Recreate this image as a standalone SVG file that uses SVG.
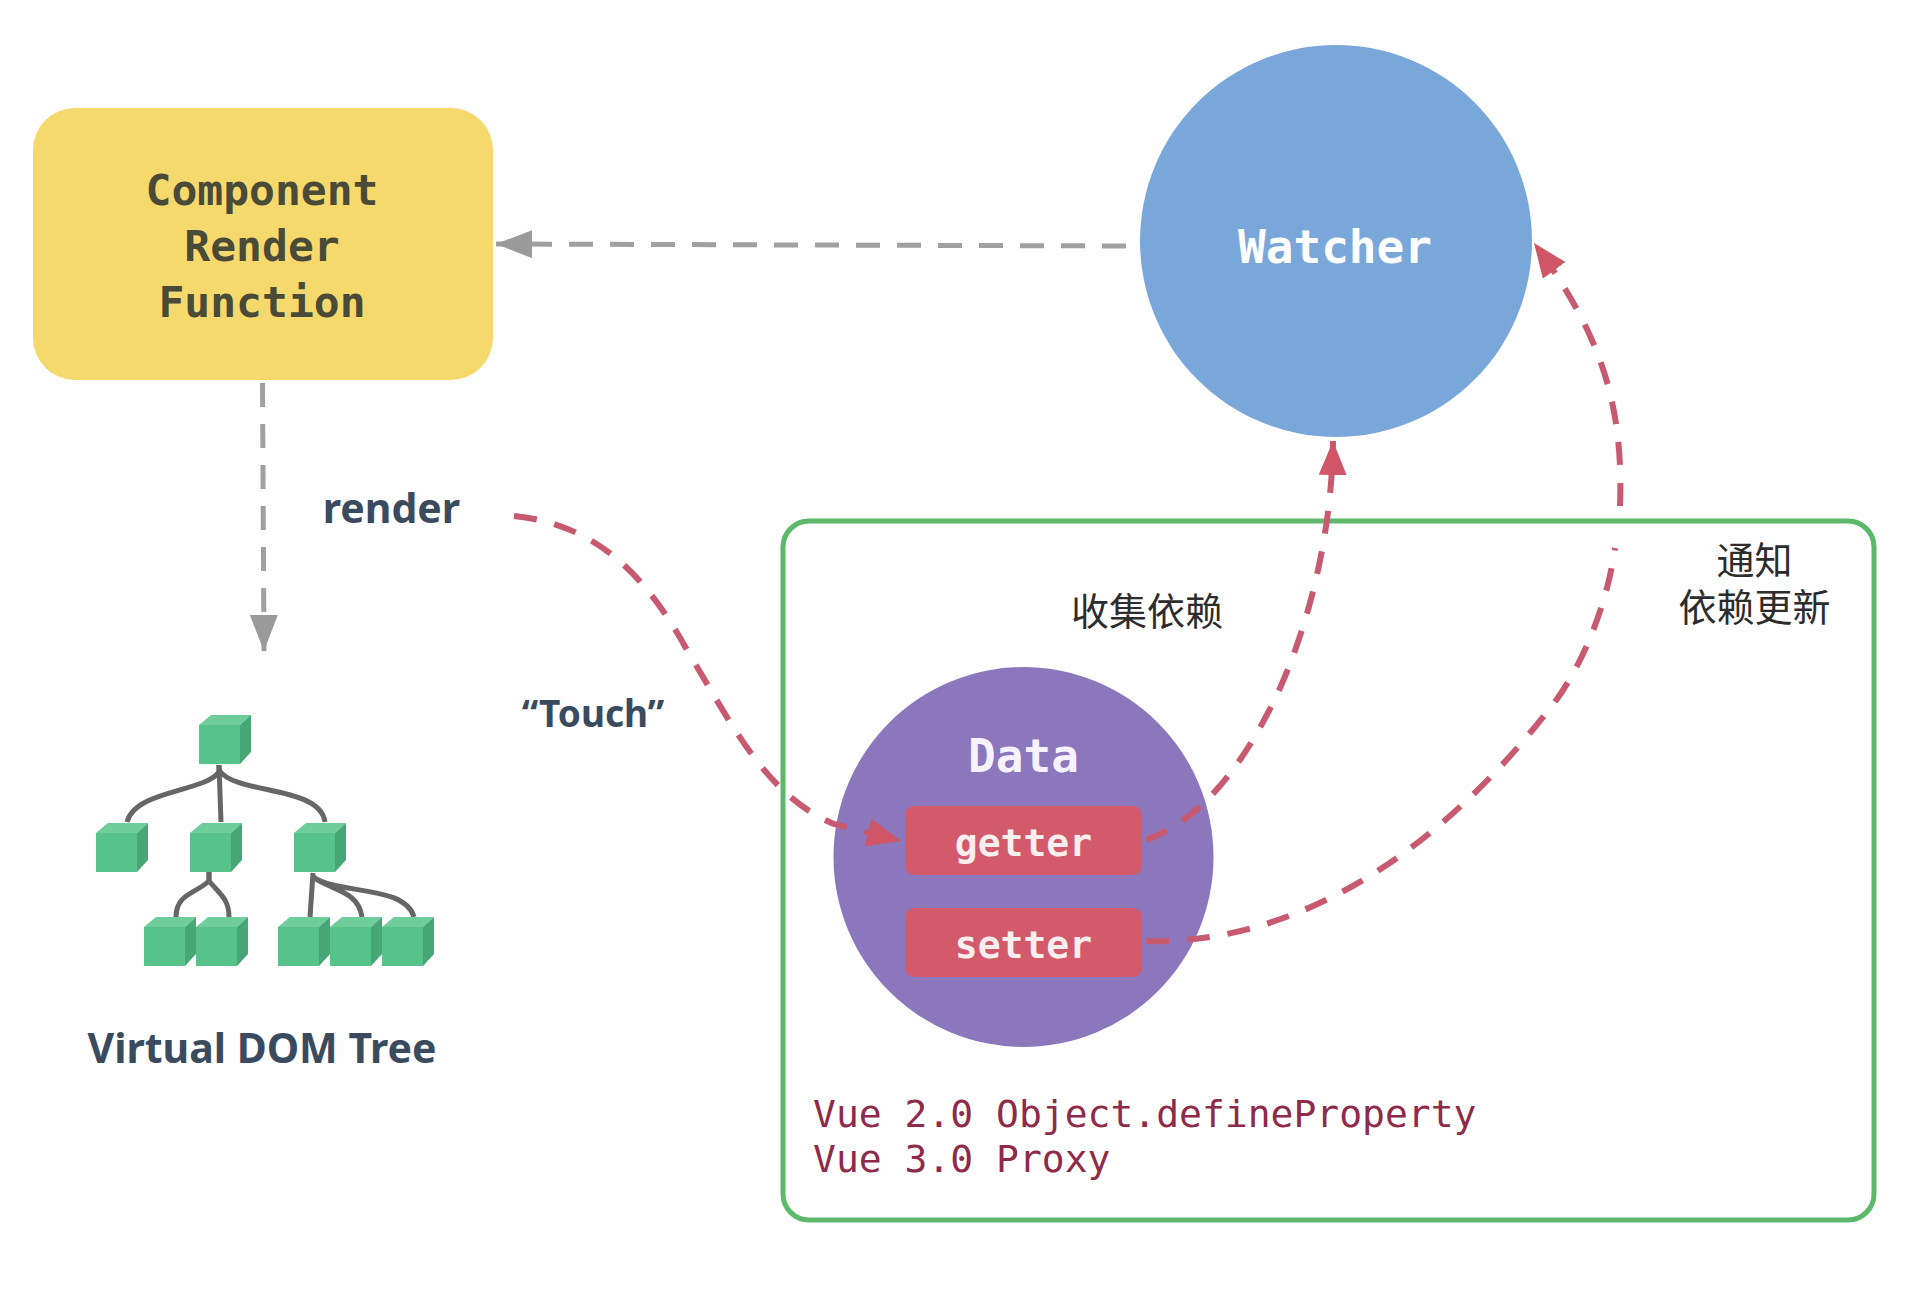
<svg xmlns="http://www.w3.org/2000/svg" xmlns:xlink="http://www.w3.org/1999/xlink" width="1922" height="1294" viewBox="0 0 1922 1294">
<style>
.mono{font-family:"DejaVu Sans Mono","Liberation Mono",monospace;font-weight:700;text-anchor:middle}
.sans{font-family:"Noto Sans","Open Sans",sans-serif;font-weight:700;fill:#3a4a5f;text-anchor:middle}
.code{font-family:"DejaVu Sans Mono","Liberation Mono",monospace;font-size:38px;fill:#8e2a4a}
.cjk{font-family:"Noto Sans CJK SC","Noto Sans",sans-serif;font-size:38px;fill:#2c2c2c;text-anchor:middle}
.gray{fill:none;stroke:#a0a0a0;stroke-width:5;stroke-dasharray:24 17}
.red{fill:none;stroke:#c75a6e;stroke-width:6;stroke-dasharray:23 18}
.tree{fill:none;stroke:#666;stroke-width:5}
</style>
<defs>
<g id="cube">
<rect x="0" y="10" width="41" height="39" fill="#57c38a"/>
<polygon points="0,10 12,0 52,0 41,10" fill="#6fcc9b"/>
<polygon points="41,10 52,0 52,37 41,49" fill="#46a675"/>
</g>
<marker id="ag" markerUnits="userSpaceOnUse" markerWidth="40" markerHeight="30" refX="36" refY="14" orient="auto"><polygon points="0,0 36,14 0,28" fill="#9a9a9a"/></marker>
<marker id="ar" markerUnits="userSpaceOnUse" markerWidth="38" markerHeight="30" refX="34" refY="14" orient="auto"><polygon points="0,0 34,14 0,28" fill="#cf5567"/></marker>
</defs>
<rect width="1922" height="1294" fill="#fefefe"/>
<g id="scope"><rect x="783" y="521" width="1091" height="699" rx="26" fill="none" stroke="#5cb96b" stroke-width="5"/></g>
<g id="render-function"><rect x="33" y="108" width="460" height="272" rx="42" fill="#f5d96c"/>
<text class="mono" x="262" y="205" font-size="43" fill="#4a4a38">Component</text>
<text class="mono" x="262" y="261" font-size="43" fill="#4a4a38">Render</text>
<text class="mono" x="262" y="317" font-size="43" fill="#4a4a38">Function</text></g>
<g id="watcher"><circle cx="1336" cy="241" r="196" fill="#7aa7d9"/>
<text class="mono" x="1335" y="263" font-size="46" fill="#fff">Watcher</text></g>
<g id="data"><circle cx="1023.500" cy="857" r="190" fill="#8c76bc"/>
<text class="mono" x="1023.500" y="772" font-size="46" fill="#f6f2ff">Data</text></g>
<g id="getter"><rect x="905" y="806" width="237" height="69" rx="9" fill="#d25a6b"/>
<text class="mono" x="1023.500" y="856" font-size="38" fill="#fbeeee">getter</text></g>
<g id="setter"><rect x="905" y="908" width="237" height="69" rx="9" fill="#d25a6b"/>
<text class="mono" x="1023.500" y="958" font-size="38" fill="#fbeeee">setter</text></g>
<g id="vdom-tree">
<g class="tree">
<path d="M219,765V772C205,792 135,790 127,822"/>
<path d="M219,765L221,822"/>
<path d="M219,770C235,795 320,785 325,822"/>
<path d="M209,872V881C195,894 176,894 176,917"/>
<path d="M209,872V881C220,894 229,899 229,917"/>
<path d="M313,873L310,917"/>
<path d="M313,877C330,890 358,890 362,917"/>
<path d="M313,877C340,895 405,885 414,917"/>
</g>
<use xlink:href="#cube" href="#cube" x="199" y="715"/>
<use xlink:href="#cube" href="#cube" x="96" y="823"/>
<use xlink:href="#cube" href="#cube" x="190" y="823"/>
<use xlink:href="#cube" href="#cube" x="294" y="823"/>
<use xlink:href="#cube" href="#cube" x="144" y="917"/>
<use xlink:href="#cube" href="#cube" x="196" y="917"/>
<use xlink:href="#cube" href="#cube" x="278" y="917"/>
<use xlink:href="#cube" href="#cube" x="330" y="917"/>
<use xlink:href="#cube" href="#cube" x="382" y="917"/>
<text class="sans" x="262" y="1063" font-size="41">Virtual DOM Tree</text></g>
<g id="connectors">
<path class="gray" marker-end="url(#ag)" d="M1126,246L496,244"/>
<path class="gray" marker-end="url(#ag)" d="M262.500,383L264,651"/>
<path class="red" marker-end="url(#ar)" d="M514,516C597,524 647,577 687,650C731,723 766,796 834,824L901,841"/>
<path class="red" marker-end="url(#ar)" d="M1146,840C1200,820 1240,770 1275,699C1310,625 1332,530 1333,441"/>
<path class="red" d="M1146,941C1270,945 1420,880 1557,699C1585,660 1608,600 1615,548"/>
<path class="red" marker-end="url(#ar)" d="M1620,506C1624,400 1598,330 1534,243"/>
</g>
<g id="labels">
<text class="sans" x="391.500" y="523" font-size="41">render</text>
<text class="sans" x="593" y="727" font-size="37">“Touch”</text>
<text class="cjk" x="1147" y="625">收集依赖</text>
<text class="cjk" x="1754.500" y="574">通知</text>
<text class="cjk" x="1754.500" y="621">依赖更新</text>
<text class="code" x="813" y="1127">Vue 2.0 Object.defineProperty</text>
<text class="code" x="813" y="1172">Vue 3.0 Proxy</text>
</g>
</svg>
